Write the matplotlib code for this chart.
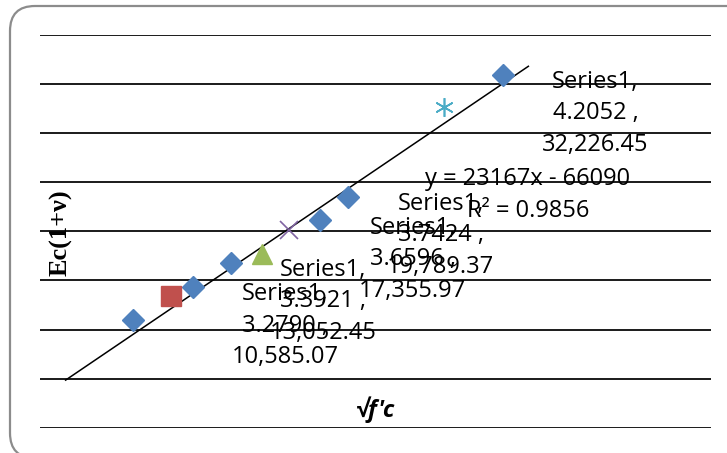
import matplotlib
matplotlib.use('Agg')
import matplotlib.pyplot as plt
from matplotlib.patches import FancyBboxPatch
from matplotlib.transforms import IdentityTransform
import numpy as np

# Series1 (blue diamonds); the first point carries no data label
s1_x = [3.100, 3.2790, 3.3921, 3.6596, 3.7424, 4.2052]
s1_y = [7258, 10585.07, 13052.45, 17355.97, 19789.37, 32226.45]
s1_labeled = [False, True, True, True, True, True]

# single-point series
other_x = [3.214, 3.485, 3.566, 4.029]
other_y = [9707, 13952, 16340, 28922]
other_marker = ['s', '^', 'x', '*']
other_color = ['#C0504D', '#9BBB59', '#8064A2', '#4BACC6']

# linear trendline of Series1
trend_slope = 23167
trend_icpt = -66090
trend_r2 = 0.9856
trend_x = [2.90, 4.28]

font = 'Open Sans'

fig = plt.figure(figsize=(7.27, 4.53), dpi=100)
ax = fig.add_axes([0.055, 0.0559, 0.923, 0.8668])

ax.set_xlim(2.8236, 4.8246)
ax.set_ylim(-3750, 36250)
ax.set_yticks(np.arange(-3750, 36251, 5000))
ax.set_xticks([])
ax.tick_params(left=False, labelleft=False)
ax.grid(axis='y', color='#1a1a1a', lw=1.4)
ax.set_axisbelow(True)
for sp in ax.spines.values():
    sp.set_visible(False)

tx = np.array(trend_x)
ax.plot(tx, trend_slope * tx + trend_icpt, color='black', lw=1.1, zorder=2)

ax.plot(s1_x, s1_y, 'D', color='#4F81BD', ms=11.5, mec='#4F81BD', zorder=3)
for x, y, m, c in zip(other_x, other_y, other_marker, other_color):
    if m in ('x', '*'):
        mk = 'x' if m == 'x' else (6, 2, 0)
        ax.plot(x, y, marker=mk, color=c, ms=13.5, mew=1.2, ls='none', zorder=3)
    else:
        ax.plot(x, y, marker=m, color=c, ms=14.5, ls='none', zorder=3)

for x, y, lab in zip(s1_x, s1_y, s1_labeled):
    if not lab:
        continue
    ax.annotate(f"Series1,\n{x:.4f} ,\n{y:,.2f}", (x, y), xytext=(28, 3.5),
                textcoords='offset points', ha='left', va='top',
                multialignment='center', fontsize=17, family=font,
                linespacing=1.42, zorder=4)

ax.text(0.727, 0.665, f"y = {trend_slope}x - {abs(trend_icpt)}\nR² = {trend_r2}",
        transform=ax.transAxes, ha='center', va='top',
        multialignment='center', fontsize=17, family=font, linespacing=1.45)

fig.text(0.516, 0.095, "√f'c", ha='center', va='center', fontsize=17,
         family=font, fontweight='bold', style='italic')
fig.text(0.084, 0.486, "Ec(1+ν)", ha='center', va='center', rotation=90,
         fontsize=19, family='Liberation Serif', fontweight='bold')

border = FancyBboxPatch((10, -5), 750, 452, boxstyle='round,pad=0,rounding_size=25',
                        transform=IdentityTransform(), fill=False,
                        edgecolor='#8c8c8c', lw=1.6)
fig.patches.append(border)

fig.savefig('out.png', dpi=100)
